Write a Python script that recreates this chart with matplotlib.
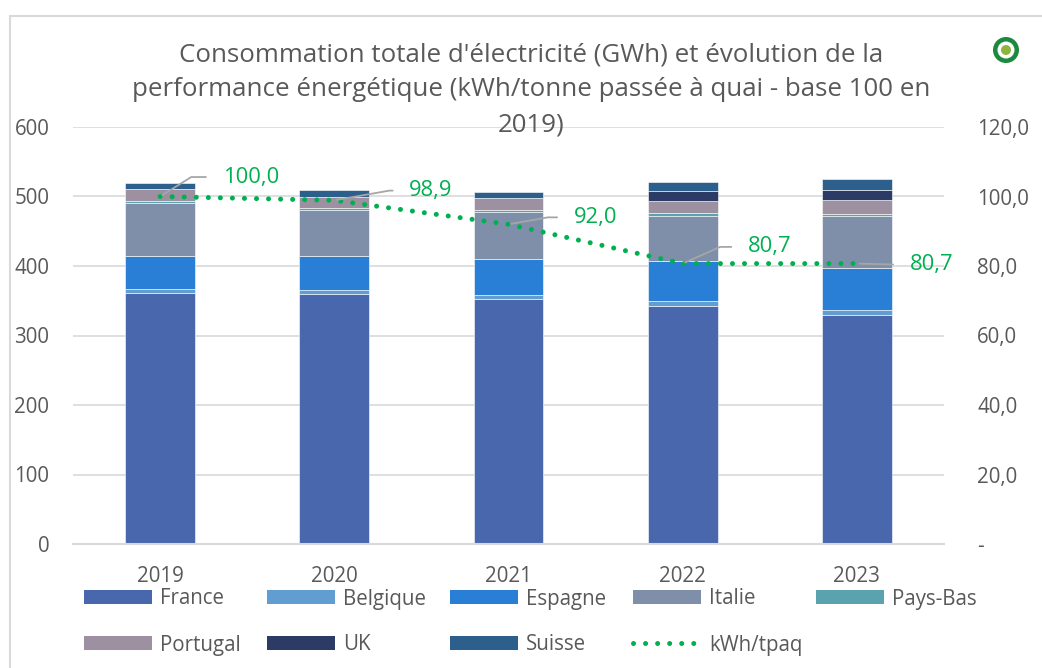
import matplotlib
matplotlib.use("Agg")
import matplotlib.pyplot as plt
from matplotlib.patches import Patch, Rectangle, Circle
from matplotlib.lines import Line2D

years = ["2019", "2020", "2021", "2022", "2023"]
france = [360.7, 359.3, 352.1, 343.0, 329.1]
belgique = [6.7, 6.7, 6.7, 7.2, 8.2]
espagne = [47.4, 48.4, 50.7, 57.0, 59.3]
italie = [75.7, 66.0, 67.5, 65.4, 75.2]
pays_bas = [2.8, 3.3, 3.4, 3.5, 3.7]
portugal = [17.3, 16.2, 17.7, 18.1, 19.7]
uk = [0.0, 0.0, 0.0, 14.3, 13.9]
suisse = [8.6, 9.2, 8.1, 12.5, 15.8]
kwh_tpaq = [100.0, 98.9, 92.0, 80.7, 80.7]

series = [
    ("France", france, "#4967AD"),
    ("Belgique", belgique, "#629DD1"),
    ("Espagne", espagne, "#297FD5"),
    ("Italie", italie, "#7F8FA9"),
    ("Pays-Bas", pays_bas, "#5AA2AE"),
    ("Portugal", portugal, "#9D90A0"),
    ("UK", uk, "#2C3B65"),
    ("Suisse", suisse, "#2D5F8C"),
]

TXT = "#595959"
GREEN = "#00B050"
GRID = "#D9D9D9"
plt.rcParams["font.family"] = ["Open Sans", "DejaVu Sans"]

W, H = 1042, 668
fig = plt.figure(figsize=(W / 100, H / 100), dpi=100)

# chart frame
fig.patches.append(Rectangle((10 / W, -0.05), 1.2, 1 - 16 / H + 0.05, transform=fig.transFigure,
                             fill=False, edgecolor=GRID, linewidth=1.5))

ax = fig.add_axes([73 / W, 1 - 544 / H, 871 / W, 417 / H])
x = range(len(years))
bottom = [0.0] * len(years)
for name, vals, col in series:
    ax.bar(x, vals, 0.4, bottom=bottom, color=col, edgecolor="white", linewidth=0.4, zorder=2)
    bottom = [b + v for b, v in zip(bottom, vals)]

ax.set_xlim(-0.5, 4.5)
ax.set_ylim(0, 600)
ax.set_yticks(range(0, 601, 100))
ax.set_xticks(list(x))
ax.set_xticklabels(years)
ax.yaxis.grid(True, color=GRID, linewidth=1.2, zorder=0)
ax.set_axisbelow(True)
for s in ["top", "left", "right"]:
    ax.spines[s].set_visible(False)
ax.spines["bottom"].set_color(GRID)
ax.spines["bottom"].set_linewidth(1.5)
ax.tick_params(axis="y", length=0, pad=17, labelsize=14.8, colors=TXT)
ax.tick_params(axis="x", length=0, pad=16, labelsize=14.8, colors=TXT)

ax2 = ax.twinx()
ax2.set_ylim(0, 120)
ax2.set_yticks(range(0, 121, 20))
ax2.set_yticklabels(["-"] + [f"{v:.1f}".replace(".", ",") for v in range(20, 121, 20)])
ax2.tick_params(axis="y", length=0, pad=24, labelsize=14.8, colors=TXT)
for s in ax2.spines.values():
    s.set_visible(False)
ax2.plot(list(x), kwh_tpaq, color=GREEN, linewidth=3.6, linestyle=(0, (0.01, 2.4)),
         dash_capstyle="round", zorder=3)

# data labels with leader lines (offsets in points)
offsets = [(45, 14, 32), (54, 7, 10), (47, 5, 10), (47, 12, 24), (38, -1, None)]
for i, (v, (dx, dy, ang)) in enumerate(zip(kwh_tpaq, offsets)):
    cs = "arc3" if ang is None else f"angle,angleA=0,angleB={ang},rad=0"
    ax2.annotate(f"{v:.1f}".replace(".", ","), xy=(i, v), xytext=(dx, dy), textcoords="offset points",
                 ha="left", va="center", fontsize=15.8, color=GREEN,
                 arrowprops=dict(arrowstyle="-", color="#A6A6A6", linewidth=1.3, connectionstyle=cs,
                                 relpos=(0, 0.5), shrinkA=10, shrinkB=2))

fig.text(531 / W, 1 - 90 / H,
         "Consommation totale d'électricité (GWh) et évolution de la\n"
         "performance énergétique (kWh/tonne passée à quai - base 100 en\n2019)",
         ha="center", va="center", fontsize=18.6, color=TXT, linespacing=1.52)

# legend, one entry per slot
handles = [Patch(facecolor=c, edgecolor="none") for _, _, c in series]
handles.append(Line2D([], [], color=GREEN, linewidth=3.6, linestyle=(0, (0.01, 2.4)), dash_capstyle="round"))
labels = [n for n, _, _ in series] + ["kWh/tpaq"]
col_x = [84, 267, 450, 633, 816]
row_y = [599, 645]
for k, (h, lab) in enumerate(zip(handles, labels)):
    r, c = divmod(k, 5)
    fig.legend([h], [lab], loc="center left", bbox_to_anchor=(col_x[c] / W, 1 - row_y[r] / H),
               frameon=False, fontsize=14.8, labelcolor=TXT, borderpad=0, borderaxespad=0,
               handlelength=3.3, handleheight=0.65, handletextpad=0.4)

# small logo top right
logo_xy = (1006 / 100, (H - 50) / 100)
for rad, col in [(0.13, "#1B8A3E"), (0.085, "white"), (0.05, "#8DB43E")]:
    fig.patches.append(Circle(logo_xy, rad, transform=fig.dpi_scale_trans, facecolor=col, edgecolor="none"))

fig.savefig("out.png", dpi=100)
